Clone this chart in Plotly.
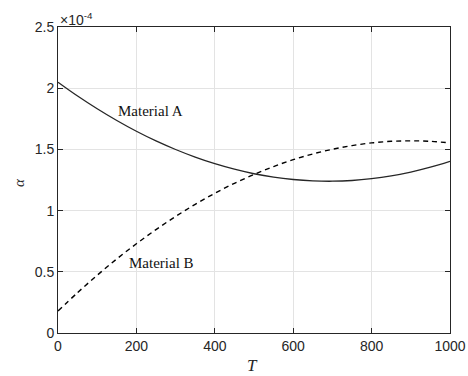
import plotly.graph_objects as go

T = [0, 50, 100, 150, 200, 250, 300, 350, 400, 450, 500, 550, 600, 650, 700, 750, 800, 850, 900, 950, 1000]
alpha_A = [2.049, 1.936, 1.832, 1.736, 1.648, 1.569, 1.499, 1.437, 1.383, 1.338, 1.301, 1.273, 1.254, 1.243, 1.240, 1.246, 1.261, 1.284, 1.315, 1.355, 1.403]
alpha_B = [0.180, 0.330, 0.472, 0.605, 0.729, 0.845, 0.952, 1.051, 1.141, 1.223, 1.295, 1.360, 1.416, 1.463, 1.501, 1.531, 1.553, 1.566, 1.570, 1.566, 1.553]
xticks = [0, 200, 400, 600, 800, 1000]
yticks = [0, 0.5, 1, 1.5, 2, 2.5]
ytick_labels = ["0", "0.5", "1", "1.5", "2", "2.5"]

fig = go.Figure()
fig.add_trace(go.Scatter(x=T, y=alpha_A, mode="lines", line=dict(color="#262626", width=1.3, shape="spline"), showlegend=False))
fig.add_trace(go.Scatter(x=T, y=alpha_B, mode="lines", line=dict(color="#000000", width=1.4, dash="5px,4px", shape="spline"), showlegend=False))

serif = "Liberation Serif"
sans = "Liberation Sans"
fig.add_annotation(x=235, y=1.81, text="Material A", showarrow=False, font=dict(family=serif, size=15, color="#111"))
fig.add_annotation(x=265, y=0.57, text="Material B", showarrow=False, font=dict(family=serif, size=15, color="#111"))
fig.add_annotation(x=0, y=1.0, xref="paper", yref="paper", xanchor="left", yanchor="bottom",
                   text="×10<sup>-4</sup>", showarrow=False, font=dict(family=sans, size=14, color="#262626"), yshift=-3)
# axis titles
fig.add_annotation(x=-0.0995, y=0.4935, xref="paper", yref="paper", xanchor="center", yanchor="middle",
                   text="<i>α</i>", textangle=-90,
                   showarrow=False, font=dict(family=serif, size=15, color="#262626"))
fig.add_annotation(x=0.497, y=-0.1046, xref="paper", yref="paper", xanchor="center", yanchor="middle",
                   text="<i>T</i>",
                   showarrow=False, font=dict(family=serif, size=17, color="#262626"))

axis_common = dict(showgrid=True, gridcolor="#e3e3e3", gridwidth=1, zeroline=False, showline=True,
                   linecolor="#262626", linewidth=1, mirror="ticks", ticks="inside", ticklen=5,
                   tickcolor="#262626", tickfont=dict(family=sans, size=14, color="#262626"),
                   automargin=False)
fig.update_xaxes(range=[0, 1000], tickvals=xticks, **axis_common)
fig.update_yaxes(range=[0, 2.5], tickvals=yticks, ticktext=ytick_labels, **axis_common)
fig.update_layout(width=468, height=376, margin=dict(l=58, r=18, t=27, b=43, pad=0),
                  plot_bgcolor="white", paper_bgcolor="white")
fig.write_html("out.html", config={"responsive": False})
